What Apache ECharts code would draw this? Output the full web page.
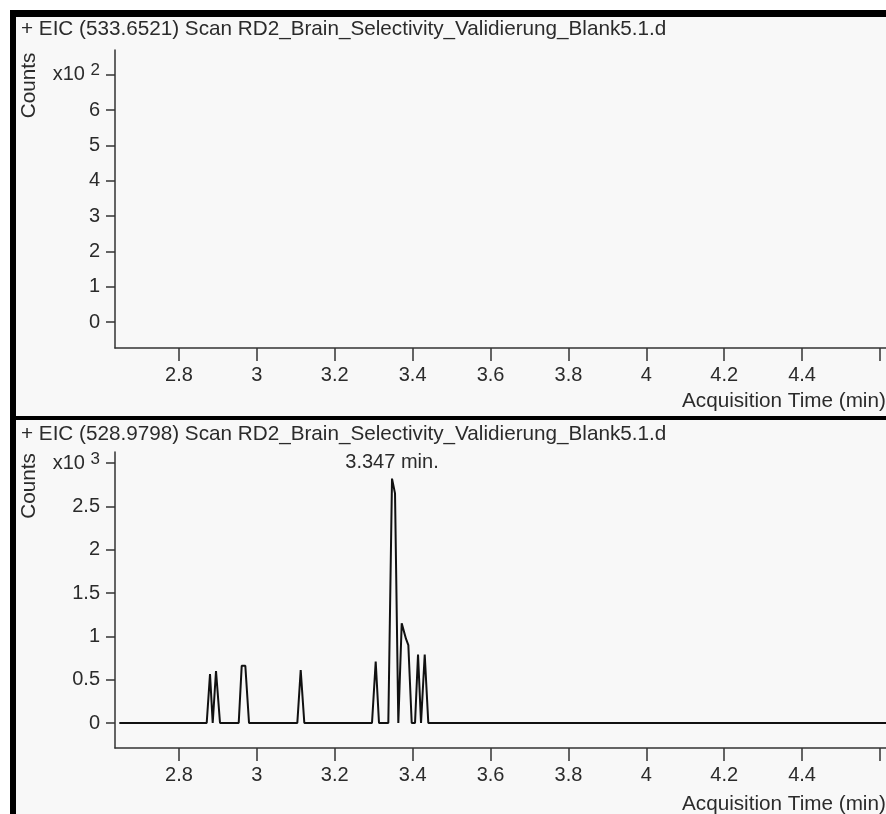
<!DOCTYPE html>
<html>
<head>
<meta charset="utf-8">
<script src="https://cdn.jsdelivr.net/npm/echarts@6/dist/echarts.min.js"></script>
<style>
  html, body { margin: 0; padding: 0; background: #fff; }
  #chart { width: 886px; height: 814px; }
</style>
</head>
<body>
<div id="chart"></div>
<script>
const topTitle = "+ EIC (533.6521) Scan RD2_Brain_Selectivity_Validierung_Blank5.1.d";
const bottomTitle = "+ EIC (528.9798) Scan RD2_Brain_Selectivity_Validierung_Blank5.1.d";
const xName = "Acquisition Time (min)";
const yName = "Counts";

const xTicks = [2.8, 3, 3.2, 3.4, 3.6, 3.8, 4, 4.2, 4.4, 4.6];
const xLabels = [2.8, 3, 3.2, 3.4, 3.6, 3.8, 4, 4.2, 4.4]; // 4.6 is cut off at the edge
const topYTicks = [0, 1, 2, 3, 4, 5, 6, 7];
const bottomYTicks = [0, 0.5, 1, 1.5, 2, 2.5, 3];

// bottom trace: time (min) / counts (x10^3)
const bottomTimes = [
  2.6467, 2.8711, 2.8796, 2.8865, 2.895, 2.9053,
  2.9533, 2.961, 2.9703, 2.9798,
  3.1038, 3.1125, 3.1218,
  3.2956, 3.3051, 3.3136,
  3.3375, 3.347, 3.3547, 3.3632,
  3.3719, 3.383, 3.3889, 3.3976,
  3.4061, 3.4138, 3.4215, 3.431, 3.4402,
  4.7
];
const bottomCounts = [
  0, 0, 0.565, 0, 0.6, 0,
  0, 0.66, 0.66, 0,
  0, 0.61, 0,
  0, 0.71, 0,
  0, 2.82, 2.65, 0,
  1.15, 0.97, 0.9, 0,
  0, 0.79, 0, 0.79, 0,
  0
];
const peakTime = 3.347;
const peakCount = 2.82;
const peakLabel = "3.347 min.";

const FONT = "Liberation Sans, Arial, sans-serif";
const TXT = "#2b2b2b";
const AX = "#333";

const chart = echarts.init(document.getElementById("chart"));

function xAxisOpt(gridIndex) {
  return {
    type: "value",
    gridIndex: gridIndex,
    min: 2.6356,
    max: 4.6156,
    splitLine: { show: false },
    axisLine: { onZero: false, lineStyle: { color: AX, width: 1.5 } },
    axisTick: { customValues: xTicks, length: 13, lineStyle: { color: AX, width: 1.5 } },
    axisLabel: {
      customValues: xLabels,
      margin: 17,
      color: TXT,
      fontFamily: FONT,
      fontSize: 20,
    },
  };
}

function yAxisOpt(gridIndex, min, max, ticks, top, exp) {
  return {
    type: "value",
    gridIndex: gridIndex,
    min: min,
    max: max,
    splitLine: { show: false },
    axisLine: { lineStyle: { color: AX, width: 1.5 } },
    axisTick: { customValues: ticks, length: 9, lineStyle: { color: AX, width: 1.5 } },
    axisLabel: {
      customValues: ticks,
      margin: 15,
      color: TXT,
      fontFamily: FONT,
      fontSize: 20,
      formatter: function (v) {
        if (v === top) return "{a|x10 }{b|" + exp + "}";
        return String(v);
      },
      rich: {
        a: { fontFamily: FONT, fontSize: 20, color: TXT },
        b: { fontFamily: FONT, fontSize: 17, color: TXT, padding: [0, 0, 8, 0] },
      },
    },
  };
}

chart.setOption({
  backgroundColor: "#fff",
  animation: false,
  grid: [
    { left: 115, right: 0, top: 50, height: 298, outerBoundsMode: "none", containLabel: false },
    { left: 115, right: 0, top: 452, height: 296, outerBoundsMode: "none", containLabel: false },
  ],
  xAxis: [xAxisOpt(0), xAxisOpt(1)],
  yAxis: [
    yAxisOpt(0, -0.736, 7.7, topYTicks, 7, "2"),
    yAxisOpt(1, -0.288, 3.127, bottomYTicks, 3, "3"),
  ],
  series: [
    {
      type: "line",
      xAxisIndex: 1,
      yAxisIndex: 1,
      data: bottomTimes.map((t, i) => [t, bottomCounts[i]]),
      showSymbol: false,
      symbol: "none",
      lineStyle: { color: "#111", width: 2 },
      clip: true,
      z: 3,
      markPoint: {
        symbol: "circle",
        symbolSize: 1,
        itemStyle: { color: "rgba(0,0,0,0)" },
        data: [{ coord: [peakTime, peakCount] }],
        label: {
          show: true,
          position: "top",
          distance: 6,
          formatter: peakLabel,
          color: TXT,
          fontFamily: FONT,
          fontSize: 20,
        },
      },
    },
  ],
  graphic: [
    { type: "rect", z: -1, shape: { x: 16, y: 17, width: 870, height: 797 }, style: { fill: "#f8f8f8" } },
    { type: "rect", z: 100, shape: { x: 10, y: 10, width: 876, height: 7 }, style: { fill: "#000" } },
    { type: "rect", z: 100, shape: { x: 10, y: 10, width: 6, height: 804 }, style: { fill: "#000" } },
    { type: "rect", z: 100, shape: { x: 10, y: 416, width: 876, height: 4 }, style: { fill: "#000" } },
    { type: "text", z: 100, x: 21, y: 29, style: { text: topTitle, fill: TXT, font: "20.7px " + FONT, verticalAlign: "middle" } },
    { type: "text", z: 100, x: 21, y: 434, style: { text: bottomTitle, fill: TXT, font: "20.7px " + FONT, verticalAlign: "middle" } },
    { type: "text", z: 100, x: 29.5, y: 85.5, rotation: Math.PI / 2, style: { text: yName, fill: TXT, font: "20.7px " + FONT, align: "center", verticalAlign: "middle" } },
    { type: "text", z: 100, x: 29.5, y: 486, rotation: Math.PI / 2, style: { text: yName, fill: TXT, font: "20.7px " + FONT, align: "center", verticalAlign: "middle" } },
    { type: "text", z: 100, x: 682, y: 401, style: { text: xName, fill: TXT, font: "20.7px " + FONT, verticalAlign: "middle" } },
    { type: "text", z: 100, x: 682, y: 804, style: { text: xName, fill: TXT, font: "20.7px " + FONT, verticalAlign: "middle" } },
  ],
});
</script>
</body>
</html>
